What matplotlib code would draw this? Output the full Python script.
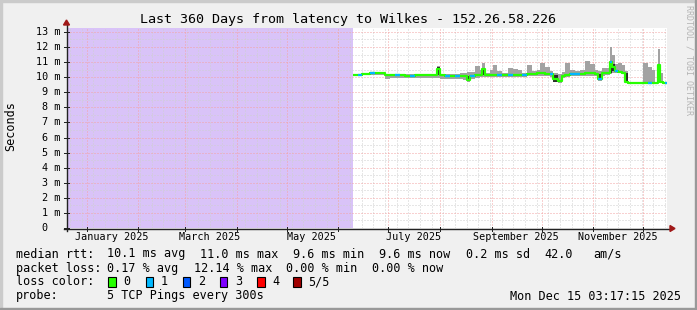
import matplotlib
matplotlib.use("Agg")
import matplotlib.pyplot as plt
import matplotlib.dates as mdates
from matplotlib.patches import Rectangle, Polygon
from matplotlib.lines import Line2D
import numpy as np
import pandas as pd
from datetime import datetime

# ---------------- data ----------------
start_time = datetime(2024, 12, 20, 3, 17, 15)
end_time = datetime(2025, 12, 15, 3, 17, 15)

dates = ["2025-06-10", "2025-06-13", "2025-06-15", "2025-06-17", "2025-06-20", "2025-06-23",
         "2025-06-26", "2025-06-29", "2025-07-02", "2025-07-05", "2025-07-08", "2025-07-11",
         "2025-07-14", "2025-07-17", "2025-07-20", "2025-07-23", "2025-07-26", "2025-07-30",
         "2025-08-01", "2025-08-04", "2025-08-07", "2025-08-10", "2025-08-13", "2025-08-15",
         "2025-08-17", "2025-08-19", "2025-08-22", "2025-08-25", "2025-08-26", "2025-08-28",
         "2025-08-31", "2025-09-02", "2025-09-04", "2025-09-07", "2025-09-11", "2025-09-14",
         "2025-09-17", "2025-09-19", "2025-09-22", "2025-09-25", "2025-09-28", "2025-09-30",
         "2025-10-03", "2025-10-06", "2025-10-08", "2025-10-11", "2025-10-13", "2025-10-15",
         "2025-10-18", "2025-10-21", "2025-10-24", "2025-10-27", "2025-10-30", "2025-11-02",
         "2025-11-04", "2025-11-06", "2025-11-08", "2025-11-11", "2025-11-12", "2025-11-14",
         "2025-11-16", "2025-11-18", "2025-11-20", "2025-11-22", "2025-11-29", "2025-12-01",
         "2025-12-04", "2025-12-06", "2025-12-08", "2025-12-10", "2025-12-11", "2025-12-13",
         "2025-12-14"]

median_ms = [10.17, 10.17, 10.20, 10.22, 10.25, 10.25, 10.25, 10.15, 10.12, 10.12, 10.12, 10.10,
             10.10, 10.12, 10.12, 10.12, 10.12, 10.55, 10.12, 10.10, 10.10, 10.08, 10.08, 10.05,
             9.80, 10.05, 10.12, 10.15, 10.55, 10.15, 10.12, 10.12, 10.15, 10.15, 10.13, 10.13,
             10.13, 10.15, 10.18, 10.20, 10.25, 10.25, 10.22, 10.18, 9.86, 9.75, 10.10, 10.15,
             10.20, 10.18, 10.20, 10.25, 10.25, 10.20, 9.90, 10.25, 10.30, 11.00, 10.70, 10.40,
             10.35, 10.30, 9.70, 9.64, 9.64, 9.64, 9.64, 9.64, 9.64, 10.80, 9.70, 9.64, 9.64]

smoke_lo = [10.10, 10.10, 10.12, 10.12, 10.15, 10.15, 10.15, 9.90, 9.92, 9.95, 9.95, 9.95,
            9.95, 9.92, 9.92, 9.95, 9.95, 9.95, 9.90, 9.88, 9.88, 9.88, 9.88, 9.80,
            9.70, 9.90, 9.95, 9.98, 10.00, 9.98, 9.98, 9.98, 10.00, 10.00, 10.00, 10.00,
            10.00, 10.02, 10.05, 10.05, 10.10, 10.10, 10.08, 10.00, 9.65, 9.60, 9.95, 10.00,
            10.05, 10.05, 10.05, 10.10, 10.10, 10.05, 9.75, 10.10, 10.15, 10.20, 10.30, 10.25,
            10.25, 10.20, 9.60, 9.62, 9.62, 9.62, 9.60, 9.60, 9.62, 9.60, 9.62, 9.62, 9.60]

smoke_hi = [10.22, 10.22, 10.24, 10.26, 10.28, 10.28, 10.30, 10.18, 10.16, 10.16, 10.18, 10.20,
            10.22, 10.20, 10.22, 10.20, 10.20, 10.75, 10.20, 10.18, 10.20, 10.22, 10.25, 10.30,
            10.35, 10.35, 10.74, 10.45, 10.92, 10.30, 10.50, 10.80, 10.40, 10.30, 10.60, 10.52,
            10.50, 10.30, 10.80, 10.40, 10.50, 10.92, 10.70, 10.40, 10.30, 10.20, 10.35, 10.95,
            10.50, 10.40, 10.50, 11.10, 10.90, 10.50, 10.40, 10.60, 10.60, 12.00, 11.50, 10.90,
            10.96, 10.80, 10.40, 9.68, 9.68, 10.96, 10.70, 10.50, 9.70, 11.90, 10.30, 9.70, 9.70]

core_lo = [10.17, 10.17, 10.20, 10.22, 10.25, 10.25, 10.25, 10.15, 10.12, 10.12, 10.12, 10.10,
           10.10, 10.12, 10.12, 10.12, 10.12, 10.12, 10.12, 10.10, 10.10, 10.08, 10.08, 10.05,
           9.72, 10.05, 10.12, 10.15, 10.15, 10.15, 10.12, 10.12, 10.15, 10.15, 10.13, 10.13,
           10.13, 10.15, 10.18, 10.20, 10.25, 10.25, 10.22, 10.18, 9.70, 9.65, 10.10, 10.15,
           10.20, 10.18, 10.20, 10.25, 10.25, 10.20, 9.80, 10.25, 10.30, 10.30, 10.40, 10.40,
           10.35, 10.30, 9.65, 9.64, 9.64, 9.64, 9.64, 9.64, 9.64, 9.70, 9.70, 9.64, 9.64]

core_hi = [10.17, 10.17, 10.20, 10.22, 10.25, 10.25, 10.25, 10.15, 10.12, 10.12, 10.12, 10.10,
           10.10, 10.12, 10.12, 10.12, 10.12, 10.65, 10.12, 10.10, 10.10, 10.08, 10.08, 10.05,
           10.10, 10.05, 10.12, 10.15, 10.60, 10.15, 10.12, 10.12, 10.15, 10.15, 10.13, 10.13,
           10.13, 10.15, 10.18, 10.20, 10.25, 10.25, 10.22, 10.18, 10.15, 9.75, 10.10, 10.15,
           10.20, 10.18, 10.20, 10.25, 10.25, 10.20, 10.20, 10.25, 10.30, 11.05, 10.90, 10.40,
           10.35, 10.30, 10.30, 9.64, 9.64, 9.64, 9.64, 9.64, 9.64, 10.85, 9.70, 9.64, 9.64]

loss = [0, 1, 0, 0, 1, 0, 0, 0, 0, 1, 0, 0,
        1, 0, 0, 0, 0, 0, 0, 1, 0, 1, 0, 0,
        0, 1, 0, 0, 0, 0, 0, 0, 1, 0, 1, 0,
        0, 1, 0, 0, 0, 0, 0, 1, 0, 0, 0, 0,
        1, 1, 0, 0, 0, 0, 1, 0, 0, 1, 0, 1,
        0, 0, 0, 0, 0, 0, 1, 0, 0, 0, 0, 0, 1]

y_top = 13.26
y_ticks = [0, 1, 2, 3, 4, 5, 6, 7, 8, 9, 10, 11, 12, 13]
x_label_months = ["2025-01", "2025-03", "2025-05", "2025-07", "2025-09", "2025-11"]

title = "Last 360 Days from latency to Wilkes - 152.26.58.226"
rtt_chunks = ["median rtt:", "10.1 ms avg", "11.0 ms max", "9.6 ms min", "9.6 ms now",
              "0.2 ms sd", "42.0", "am/s"]
loss_chunks = ["packet loss:", "0.17 % avg", "12.14 % max", "0.00 % min", "0.00 % now"]
probe_chunks = ["probe:", "5 TCP Pings every 300s"]
loss_title = "loss color:"
loss_labels = ["0", "1", "2", "3", "4", "5/5"]
loss_colors = ["#26ff00", "#00b8ff", "#0059ff", "#7e00ff", "#ff0000", "#a00000"]
timestamp = "Mon Dec 15 03:17:15 2025"

# ---------------- figure ----------------
W, H = 697, 310
MONO = "DejaVu Sans Mono"
plt.rcParams["lines.scale_dashes"] = False

fig = plt.figure(figsize=(W / 100, H / 100), dpi=100)
fig.patch.set_facecolor("#f0f0f0")

def fx(x):
    return x / W

def fy(y):
    return 1 - y / H

# frame shading
fig.patches.append(Rectangle((0, 0), fx(2), 1, transform=fig.transFigure, color="#cbcbcb", zorder=0))
fig.patches.append(Rectangle((0, fy(2)), 1, 2 / H, transform=fig.transFigure, color="#cbcbcb", zorder=0))
fig.patches.append(Rectangle((fx(W - 2), 0), 2 / W, 1, transform=fig.transFigure, color="#999999", zorder=0))
fig.patches.append(Rectangle((0, 0), 1, 2 / H, transform=fig.transFigure, color="#999999", zorder=0))

L, R, T, B = 67, 667, 28, 228
ax = fig.add_axes([fx(L), fy(B), (R - L) / W, (B - T) / H])
ax.set_facecolor("white")
for s in ax.spines.values():
    s.set_visible(False)
ax.set_xticks([])
ax.set_yticks([])

t0 = mdates.date2num(start_time)
t1 = mdates.date2num(end_time)
ax.set_xlim(t0, t1)
ax.set_ylim(0, y_top)

xd = mdates.date2num(pd.to_datetime(dates).to_pydatetime())
xs = np.append(xd, t1)

def ext(a):
    a = np.asarray(a, float)
    return np.append(a, a[-1])

# unknown (no data) area
ax.fill_between([t0, xd[0]], 0, y_top, color="#d9c3f8", lw=0, zorder=1)

# grid
dash = (0, (0.72, 1.44))
weeks = pd.date_range(start_time, end_time, freq="W-SUN").normalize()
for wk in weeks:
    ax.axvline(mdates.date2num(wk.to_pydatetime()), color="#cfcfcf", lw=0.72, linestyle=dash, zorder=2)
for v in np.arange(0.5, y_top, 1.0):
    ax.axhline(v, color="#cfcfcf", lw=0.72, linestyle=dash, zorder=2)
months = pd.date_range("2025-01-01", end_time, freq="MS")
for m in months:
    ax.axvline(mdates.date2num(m.to_pydatetime()), color="#f3a3a3", lw=0.72, linestyle=dash, zorder=2.1)
for v in y_ticks[1:]:
    ax.axhline(v, color="#f3a3a3", lw=0.72, linestyle=dash, zorder=2.1)

# smoke
ax.fill_between(xs, ext(smoke_lo), ext(smoke_hi), step="post", color="#a2a2a2", lw=0, zorder=3)
ax.fill_between(xs, ext(core_lo), ext(core_hi), step="post", color="#2a2a2a", lw=0, zorder=4)

# median line coloured by loss
med = ext(median_ms)
ax.plot(xs, med, drawstyle="steps-post", color=loss_colors[0], lw=1.6, zorder=5, solid_capstyle="butt")
for i, l in enumerate(loss):
    if l > 0:
        ax.plot([xs[i], xs[i + 1]], [median_ms[i], median_ms[i]], color=loss_colors[l], lw=1.6,
                zorder=6, solid_capstyle="butt")

# axes lines and arrows (figure pixel coords)
def pline(x0, y0, x1, y1, color, lw=0.72, z=10):
    fig.add_artist(Line2D([fx(x0), fx(x1)], [fy(y0), fy(y1)], color=color, lw=lw, zorder=z,
                          transform=fig.transFigure))

axis_col = "#222222"
pline(L - 3, B + 0.5, R + 3, B + 0.5, axis_col, lw=1.0)
pline(L - 0.5, B + 3, L - 0.5, T - 3, axis_col, lw=1.0)
arrow_col = "#a01818"
fig.add_artist(Polygon([[fx(R + 3), fy(B - 2.5)], [fx(R + 8), fy(B + 0.5)], [fx(R + 3), fy(B + 3.5)]],
                       closed=True, color=arrow_col, transform=fig.transFigure, zorder=11))
fig.add_artist(Polygon([[fx(L - 3.5), fy(T - 3)], [fx(L - 0.5), fy(T - 8)], [fx(L + 2.5), fy(T - 3)]],
                       closed=True, color=arrow_col, transform=fig.transFigure, zorder=11))

# ticks
def xpix(d):
    return L + (mdates.date2num(d) - t0) / (t1 - t0) * (R - L)

def ypix(v):
    return B - v / y_top * (B - T)

for m in months:
    xp = xpix(m.to_pydatetime())
    pline(xp, B - 1, xp, B + 3, axis_col, lw=0.72)
for v in y_ticks:
    yp = ypix(v)
    pline(L - 3, yp, L + 2, yp, axis_col, lw=0.72)

# tick labels
TICK_FS = 7.3
cw = TICK_FS * 100 / 72 * 0.602
for v in y_ticks:
    yp = ypix(v)
    if v == 0:
        fig.text(fx(60 - 2 * cw), fy(yp), "0", ha="right", va="center", fontsize=TICK_FS, family=MONO)
    else:
        fig.text(fx(60), fy(yp), f"{v} m", ha="right", va="center", fontsize=TICK_FS, family=MONO)

for ms in x_label_months:
    a = pd.Timestamp(ms + "-01")
    b = a + pd.offsets.MonthBegin(1)
    xc = (xpix(a.to_pydatetime()) + xpix(b.to_pydatetime())) / 2 - 1
    fig.text(fx(xc), fy(237.5), a.strftime("%B %Y"), ha="center", va="center",
             fontsize=TICK_FS, family=MONO)

# title, axis label, watermark
fig.text(fx(348), fy(19), title, ha="center", va="center", fontsize=9.6, family=MONO)
fig.text(fx(10.5), fy(126), "Seconds", ha="center", va="center", rotation=90, fontsize=8.5, family=MONO)
fig.text(fx(689), fy(60), "RRDTOOL / TOBI OETIKER", ha="center", va="center", rotation=270,
         fontsize=6.0, family=MONO, color="#b4b4b4")

# legend (chunks placed at their own x positions, like rrdtool does)
LEG_FS = 8.5
rows = [
    (254, rtt_chunks, [16, 107.3, 200.0, 293.3, 379.3, 465.7, 544.3, 593.3]),
    (268.3, loss_chunks, [16, 107.3, 194.5, 286.0, 372.3]),
    (296, probe_chunks, [16, 107.0]),
]
for y, chunks, xs_px in rows:
    for s, xp in zip(chunks, xs_px):
        fig.text(fx(xp), fy(y), s, ha="left", va="center", fontsize=LEG_FS, family=MONO)

fig.text(fx(16), fy(281.7), loss_title, ha="left", va="center", fontsize=LEG_FS, family=MONO)
box_x = [108.3, 145.7, 182.7, 220.0, 257.3, 293.3]
for bx, lab, col in zip(box_x, loss_labels, loss_colors):
    fig.patches.append(Rectangle((fx(bx), fy(287)), 7.5 / W, 10 / H, transform=fig.transFigure,
                                 facecolor=col, edgecolor="black", lw=0.8, zorder=5))
    fig.text(fx(bx + 15), fy(281.7), lab, ha="left", va="center", fontsize=LEG_FS, family=MONO)

fig.text(fx(680.5), fy(296), timestamp, ha="right", va="center", fontsize=LEG_FS, family=MONO)

fig.savefig("out.png", dpi=100, facecolor=fig.get_facecolor())
